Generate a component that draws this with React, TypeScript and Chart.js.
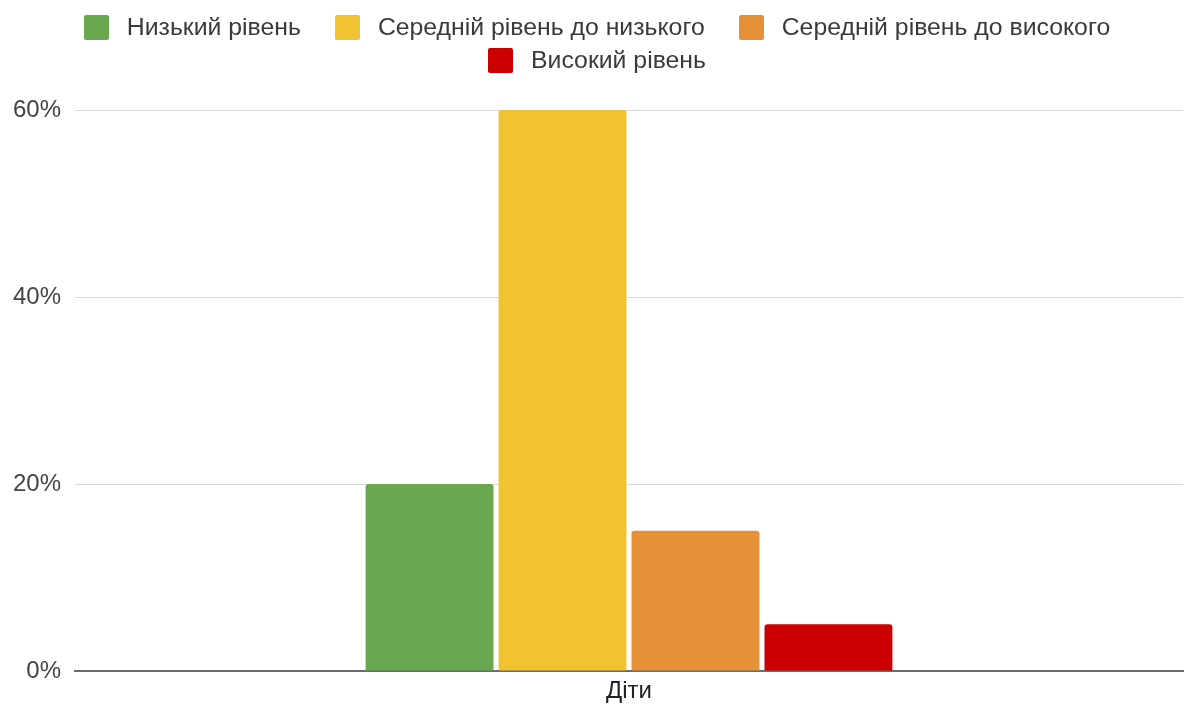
import React, { useEffect, useRef } from "react";
import { Chart, registerables } from "chart.js";

Chart.register(...registerables);

// Chart data
const categories: string[] = ["Діти"];
const seriesNames: string[] = [
  "Низький рівень",
  "Середній рівень до низького",
  "Середній рівень до високого",
  "Високий рівень",
];
const seriesColors: string[] = ["#6aa84f", "#f1c232", "#e69138", "#cc0000"];
const lowLevel: number[] = [20];
const midLowLevel: number[] = [60];
const midHighLevel: number[] = [15];
const highLevel: number[] = [5];
const yTicks: number[] = [0, 20, 40, 60];

const FONT = "'Liberation Sans', Arial, Helvetica, sans-serif";

export default function App() {
  const canvasRef = useRef<HTMLCanvasElement | null>(null);

  useEffect(() => {
    const canvas = canvasRef.current;
    if (!canvas) return;
    const seriesValues = [lowLevel, midLowLevel, midHighLevel, highLevel];
    const chart = new Chart(canvas, {
      type: "bar",
      data: {
        labels: categories,
        datasets: seriesNames.map((name, i) => ({
          label: name,
          data: seriesValues[i],
          backgroundColor: seriesColors[i],
          borderWidth: 0,
          borderRadius: 3,
          categoryPercentage: 0.48,
          barPercentage: 0.962,
        })),
      },
      options: {
        responsive: false,
        animation: false,
        layout: { padding: { top: 110, right: 1, bottom: 0, left: 0 } },
        plugins: {
          legend: { display: false },
          tooltip: { enabled: false },
        },
        scales: {
          x: {
            z: 1,
            grid: { display: false, drawTicks: false },
            border: { display: true, color: "#6b6b6b", width: 2 },
            ticks: {
              padding: 6,
              color: "#222",
              font: { family: FONT, size: 24 },
            },
            afterFit: (scale: any) => {
              scale.height = 38;
            },
          },
          y: {
            min: 0,
            max: 60,
            afterBuildTicks: (scale: any) => {
              scale.ticks = yTicks.map((v) => ({ value: v }));
            },
            grid: { color: "#d9d9d9", lineWidth: 1, drawTicks: false },
            border: { display: false },
            ticks: {
              padding: 14,
              color: "#444",
              font: { family: FONT, size: 24 },
              callback: (v: any) => `${v}%`,
            },
            afterFit: (scale: any) => {
              scale.width = 75;
            },
          },
        },
      },
    });
    return () => chart.destroy();
  }, []);

  return (
    <div
      style={{
        position: "fixed",
        left: 0,
        top: 0,
        width: 1184,
        height: 709,
        background: "#fff",
        fontFamily: FONT,
      }}
    >
      <canvas
        ref={canvasRef}
        width={1184}
        height={709}
        style={{ position: "absolute", left: 0, top: 0 }}
      />
      <div
        style={{
          position: "absolute",
          left: 10,
          top: 13,
          width: 1174,
          display: "flex",
          flexWrap: "wrap",
          justifyContent: "center",
          rowGap: 5,
        }}
      >
        {seriesNames.map((name, i) => (
          <div
            key={name}
            style={{
              display: "flex",
              alignItems: "center",
              height: 28,
              margin: "0 17px",
            }}
          >
            <span
              style={{
                display: "inline-block",
                width: 25,
                height: 25,
                borderRadius: 2,
                background: seriesColors[i],
                marginRight: 18,
              }}
            />
            <span style={{ fontSize: 24.8, lineHeight: "28px", color: "#3a3a3a", whiteSpace: "nowrap" }}>
              {name}
            </span>
          </div>
        ))}
      </div>
    </div>
  );
}
